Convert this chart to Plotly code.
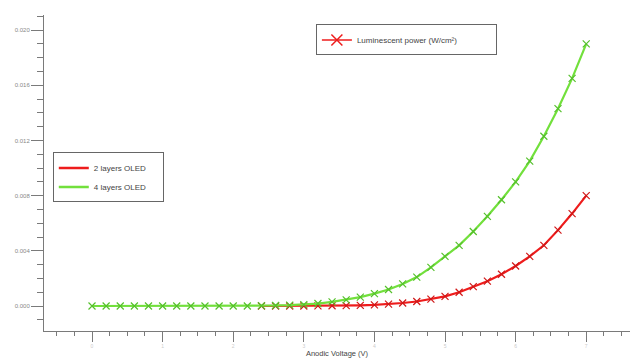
import plotly.graph_objects as go

# Anodic voltage (V)
voltage_green = [0.0, 0.2, 0.4, 0.6, 0.8, 1.0, 1.2, 1.4, 1.6, 1.8, 2.0, 2.2, 2.4, 2.6, 2.8,
                 3.0, 3.2, 3.4, 3.6, 3.8, 4.0, 4.2, 4.4, 4.6, 4.8, 5.0, 5.2, 5.4, 5.6, 5.8,
                 6.0, 6.2, 6.4, 6.6, 6.8, 7.0]
power_4layers = [0, 0, 0, 0, 0, 0, 0, 0, 0, 0, 0, 0, 0.00002, 0.00004, 0.00007,
                 0.0001, 0.00018, 0.0003, 0.00045, 0.00065, 0.0009, 0.0012, 0.0016, 0.0021, 0.0028, 0.0036,
                 0.0044, 0.0054, 0.0065, 0.0077, 0.0090, 0.0105, 0.0123, 0.0143, 0.0165, 0.0190]

voltage_red = [2.4, 2.6, 2.8, 3.0, 3.2, 3.4, 3.6, 3.8, 4.0, 4.2, 4.4, 4.6, 4.8, 5.0,
               5.2, 5.4, 5.6, 5.8, 6.0, 6.2, 6.4, 6.6, 6.8, 7.0]
power_2layers = [0, 0, 0, 0, 0.00001, 0.00002, 0.00003, 0.00005, 0.00008, 0.00014, 0.00022, 0.00033, 0.0005, 0.0007,
                 0.0010, 0.0014, 0.0018, 0.0023, 0.0029, 0.0036, 0.0044, 0.0055, 0.0067, 0.0080]

x_ticks = [0, 1, 2, 3, 4, 5, 6, 7]
y_ticks = [0.000, 0.004, 0.008, 0.012, 0.016, 0.020]
y_tick_labels = ["0.000", "0.004", "0.008", "0.012", "0.016", "0.020"]

RED = "#ee1c1c"
GREEN = "#72e03c"
FONT = "Liberation Sans"
PAD = "\u00a0"

fig = go.Figure()
fig.add_trace(go.Scatter(
    x=voltage_red, y=power_2layers, name="2 layers OLED", mode="lines+markers",
    line=dict(color=RED, width=2.2),
    marker=dict(symbol="x-thin", size=7, line=dict(color="#d01818", width=1.2), color=RED),
    showlegend=False,
))
fig.add_trace(go.Scatter(
    x=voltage_green, y=power_4layers, name="4 layers OLED", mode="lines+markers",
    line=dict(color=GREEN, width=2.2),
    marker=dict(symbol="x-thin", size=7, line=dict(color="#55c02c", width=1.2), color=GREEN),
    showlegend=False,
))
# legend entries (line samples only, as in the reference)
fig.add_trace(go.Scatter(
    x=[None], y=[None], name="2 layers OLED" + PAD * 5, mode="lines",
    line=dict(color=RED, width=2.5), legend="legend",
))
fig.add_trace(go.Scatter(
    x=[None], y=[None], name="4 layers OLED" + PAD * 5, mode="lines",
    line=dict(color=GREEN, width=2.5), legend="legend",
))
fig.add_trace(go.Scatter(
    x=[None], y=[None], name="Luminescent power (W/cm²)" + PAD * 15, mode="lines+markers",
    line=dict(color=RED, width=1.5),
    marker=dict(symbol="x-thin", size=11, line=dict(color=RED, width=1.5), color=RED),
    legend="legend2",
))

axis_col = "#7a7a7a"
fig.update_layout(
    width=630, height=362,
    margin=dict(l=44, r=0, t=15, b=31),
    paper_bgcolor="white", plot_bgcolor="white",
    font=dict(family=FONT, size=7, color="#555555"),
    showlegend=True,
    legend=dict(
        x=0.015, y=0.565, xanchor="left", yanchor="top",
        bgcolor="white", bordercolor="#666666", borderwidth=1,
        font=dict(size=8, color="#444444"),
        itemwidth=30, tracegroupgap=0,
    ),
    legend2=dict(
        x=0.464, y=0.97, xanchor="left", yanchor="top",
        bgcolor="white", bordercolor="#666666", borderwidth=1,
        font=dict(size=8, color="#444444"),
        itemwidth=30,
    ),
    xaxis=dict(
        range=[-0.68, 7.62], tickvals=x_ticks, ticktext=[str(v) for v in x_ticks],
        showgrid=False, zeroline=False, showline=True, linecolor=axis_col, linewidth=1,
        ticks="outside", ticklen=10, tickcolor=axis_col, tickwidth=1,
        tickfont=dict(size=5, color="#cccccc"), automargin=False,
        minor=dict(dtick=0.25, tick0=0, ticks="outside", ticklen=4, tickcolor=axis_col, showgrid=False),
        title=dict(text="Anodic Voltage (V)", font=dict(size=7.5, color="#444444"), standoff=2),
    ),
    yaxis=dict(
        range=[-0.00181, 0.02109], tickvals=y_ticks, ticktext=y_tick_labels,
        showgrid=False, zeroline=False, showline=True, linecolor=axis_col, linewidth=1,
        ticks="outside", ticklen=12, tickcolor=axis_col, tickwidth=1,
        tickfont=dict(size=6, color="#888888"), automargin=False,
        minor=dict(dtick=0.001, tick0=0, ticks="outside", ticklen=6, tickcolor=axis_col, showgrid=False),
    ),
)

fig.write_html(
    "out.html",
    config={"displayModeBar": False},
    post_script="document.body.style.margin='0';document.body.style.padding='0';",
)
